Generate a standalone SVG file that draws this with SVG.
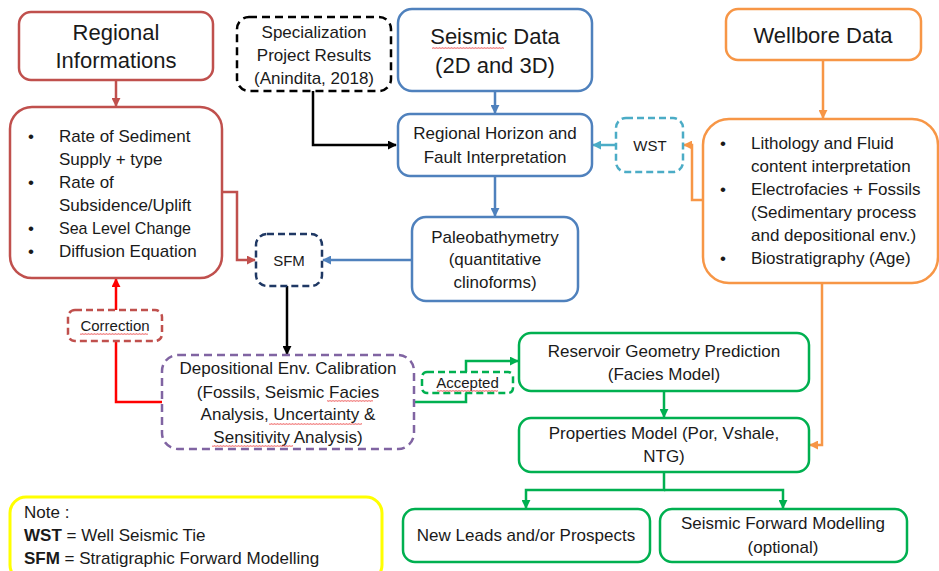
<svg xmlns="http://www.w3.org/2000/svg" width="939" height="571" viewBox="0 0 939 571">
<defs>
<style>
text{font-family:"Liberation Sans",Arial,sans-serif;fill:#1a1a1a;font-size:17px}
.h{font-size:22px}
.s{font-size:15px}
.c{text-anchor:middle}
.box{fill:#fff;stroke-width:2.5}
.ln{fill:none;stroke-width:2.5}
.sq{fill:url(#wave)}
</style>
<pattern id="wave" width="3" height="2" patternUnits="userSpaceOnUse"><path d="M0,1.8 L0.75,0.2 L1.5,1.8 L2.25,0.2 L3,1.8" fill="none" stroke="#e84040" stroke-width="0.5"/></pattern>
<marker id="aRd" viewBox="0 0 10 10" refX="9" refY="5" markerWidth="9" markerHeight="9" markerUnits="userSpaceOnUse" orient="auto"><path d="M0,0L10,5L0,10z" fill="#C0504D"/></marker>
<marker id="aR" viewBox="0 0 10 10" refX="9" refY="5" markerWidth="9" markerHeight="9" markerUnits="userSpaceOnUse" orient="auto"><path d="M0,0L10,5L0,10z" fill="#FF0000"/></marker>
<marker id="aB" viewBox="0 0 10 10" refX="9" refY="5" markerWidth="9" markerHeight="9" markerUnits="userSpaceOnUse" orient="auto"><path d="M0,0L10,5L0,10z" fill="#4F81BD"/></marker>
<marker id="aT" viewBox="0 0 10 10" refX="9" refY="5" markerWidth="9" markerHeight="9" markerUnits="userSpaceOnUse" orient="auto"><path d="M0,0L10,5L0,10z" fill="#4BACC6"/></marker>
<marker id="aO" viewBox="0 0 10 10" refX="9" refY="5" markerWidth="9" markerHeight="9" markerUnits="userSpaceOnUse" orient="auto"><path d="M0,0L10,5L0,10z" fill="#F79646"/></marker>
<marker id="aG" viewBox="0 0 10 10" refX="9" refY="5" markerWidth="9" markerHeight="9" markerUnits="userSpaceOnUse" orient="auto"><path d="M0,0L10,5L0,10z" fill="#00B050"/></marker>
<marker id="aK" viewBox="0 0 10 10" refX="9" refY="5" markerWidth="9" markerHeight="9" markerUnits="userSpaceOnUse" orient="auto"><path d="M0,0L10,5L0,10z" fill="#000"/></marker>
</defs>
<rect width="939" height="571" fill="#fff"/>

<g id="connectors">
<path class="ln" stroke="#C0504D" d="M116,80 V106" marker-end="url(#aRd)"/>
<path class="ln" stroke="#C0504D" d="M222,192 H237 V260 H255" marker-end="url(#aRd)"/>
<path class="ln" stroke="#000" d="M313,91 V145 H396" marker-end="url(#aK)"/>
<path class="ln" stroke="#4F81BD" d="M495,91 V113" marker-end="url(#aB)"/>
<path class="ln" stroke="#4F81BD" d="M495,176 V216" marker-end="url(#aB)"/>
<path class="ln" stroke="#4F81BD" d="M412,260 H323" marker-end="url(#aB)"/>
<path class="ln" stroke="#4BACC6" d="M616,145 H593" marker-end="url(#aT)"/>
<path class="ln" stroke="#F79646" d="M823,60 V118" marker-end="url(#aO)"/>
<path class="ln" stroke="#F79646" d="M703,200 H692 V145 H684" marker-end="url(#aO)"/>
<path class="ln" stroke="#F79646" d="M822,283 V445 H810" marker-end="url(#aO)"/>
<path class="ln" stroke="#000" d="M287,286 V354" marker-end="url(#aK)"/>
<path class="ln" stroke="#FF0000" d="M162,402 H116 V341"/>
<path class="ln" stroke="#FF0000" d="M116,310 V279" marker-end="url(#aR)"/>
<path class="ln" stroke="#00B050" d="M414,402 H466 V361 H518" marker-end="url(#aG)"/>
<path class="ln" stroke="#00B050" d="M664,391 V417" marker-end="url(#aG)"/>
<path class="ln" stroke="#00B050" d="M664,472 V490 H526 V508" marker-end="url(#aG)"/>
<path class="ln" stroke="#00B050" d="M664,490 H783 V508" marker-end="url(#aG)"/>
</g>

<g id="regional">
<rect class="box" x="19" y="12" width="194" height="68" rx="12" stroke="#C0504D"/>
<text class="h c" x="116" y="40">Regional</text>
<text class="h c" x="116" y="68">Informations</text>
</g>

<g id="regional-list">
<rect class="box" x="10" y="107" width="212" height="171" rx="22" stroke="#C0504D"/>
<text x="28" y="142">•</text><text x="59" y="142">Rate of Sediment</text>
<text x="59" y="165">Supply + type</text>
<text x="28" y="188">•</text><text x="59" y="188">Rate of</text>
<text x="59" y="211">Subsidence/Uplift</text>
<text x="28" y="234">•</text><text x="59" y="234" textLength="132" lengthAdjust="spacingAndGlyphs">Sea Level Change</text>
<text x="28" y="257">•</text><text x="59" y="257">Diffusion Equation</text>
</g>

<g id="specialization">
<rect class="box" x="237" y="17" width="154" height="74" rx="12" stroke="#000" stroke-dasharray="8 5"/>
<text class="c" x="314" y="38">Specialization</text>
<text class="c" x="314" y="61">Project Results</text>
<text class="c" x="314" y="84">(Anindita, 2018)</text>
</g>

<g id="seismic">
<rect class="box" x="398" y="9" width="194" height="82" rx="14" stroke="#4F81BD"/>
<text class="h c" x="495" y="44">Seismic Data</text>
<text class="h c" x="495" y="73">(2D and 3D)</text>
<rect class="sq" x="432" y="47" width="72" height="2"/>
</g>

<g id="horizon">
<rect class="box" x="398" y="114" width="194" height="62" rx="12" stroke="#4F81BD"/>
<text class="c" x="495" y="139">Regional Horizon and</text>
<text class="c" x="495" y="163">Fault Interpretation</text>
</g>

<g id="paleo">
<rect class="box" x="412" y="217" width="166" height="84" rx="14" stroke="#4F81BD"/>
<text class="c" x="495" y="243">Paleobathymetry</text>
<text class="c" x="495" y="265">(quantitative</text>
<text class="c" x="495" y="288">clinoforms)</text>
</g>

<g id="sfm">
<rect class="box" x="256" y="234" width="66" height="52" rx="11" stroke="#1F3864" stroke-dasharray="7 4"/>
<text class="s c" x="289" y="266">SFM</text>
</g>

<g id="wst">
<rect class="box" x="616" y="118" width="67" height="54" rx="10" stroke="#4BACC6" stroke-dasharray="7 4"/>
<text class="s c" x="650" y="151">WST</text>
</g>

<g id="wellbore">
<rect class="box" x="726" y="9" width="195" height="51" rx="12" stroke="#F79646"/>
<text class="h c" x="823" y="43">Wellbore Data</text>
</g>

<g id="wellbore-list">
<rect class="box" x="703" y="119" width="235" height="164" rx="26" stroke="#F79646"/>
<text x="720" y="149">•</text><text x="751" y="149">Lithology and Fluid</text>
<text x="751" y="172">content interpretation</text>
<text x="720" y="195">•</text><text x="751" y="195">Electrofacies + Fossils</text>
<text x="751" y="218">(Sedimentary process</text>
<text x="751" y="241">and depositional env.)</text>
<text x="720" y="264">•</text><text x="751" y="264">Biostratigraphy (Age)</text>
</g>

<g id="correction">
<rect class="box" x="68" y="310" width="94" height="31" rx="7" stroke="#C0504D" stroke-dasharray="7 4"/>
<text class="s c" x="115" y="331">Correction</text>
<rect class="sq" x="80" y="333" width="68" height="2"/>
</g>

<g id="calibration">
<rect class="box" x="162" y="355" width="252" height="94" rx="16" stroke="#8064A2" stroke-dasharray="8 5"/>
<text class="c" x="288" y="374">Depositional Env. Calibration</text>
<text class="c" x="288" y="398">(Fossils, Seismic Facies</text>
<text class="c" x="288" y="420">Analysis, Uncertainty &amp;</text>
<text class="c" x="288" y="443">Sensitivity Analysis)</text>
<rect class="sq" x="327" y="400" width="46" height="2"/>
<rect class="sq" x="269" y="423" width="93" height="2"/>
<rect class="sq" x="212" y="445" width="81" height="2"/>
</g>

<g id="accepted">
<rect class="box" x="422" y="372" width="91" height="21" rx="5" stroke="#00B050" stroke-dasharray="7 4"/>
<text class="s c" x="467.5" y="388">Accepted</text>
<rect class="sq" x="437" y="390" width="61" height="2"/>
</g>

<g id="reservoir">
<rect class="box" x="519" y="333" width="290" height="58" rx="12" stroke="#00B050"/>
<text class="c" x="664" y="357">Reservoir Geometry Prediction</text>
<text class="c" x="664" y="380">(Facies Model)</text>
</g>

<g id="properties">
<rect class="box" x="519" y="418" width="290" height="54" rx="12" stroke="#00B050"/>
<text class="c" x="664" y="439">Properties Model (Por, Vshale,</text>
<text class="c" x="664" y="462">NTG)</text>
</g>

<g id="leads">
<rect class="box" x="403" y="509" width="247" height="53" rx="12" stroke="#00B050"/>
<text class="c" x="526" y="541">New Leads and/or Prospects</text>
</g>

<g id="forward">
<rect class="box" x="660" y="509" width="247" height="53" rx="12" stroke="#00B050"/>
<text class="c" x="783" y="529">Seismic Forward Modelling</text>
<text class="c" x="783" y="553">(optional)</text>
</g>

<g id="note">
<rect x="10" y="497" width="372" height="84" rx="16" fill="#fff" stroke="#FFFF00" stroke-width="3"/>
<text x="24" y="518">Note :</text>
<text x="24" y="541"><tspan font-weight="bold">WST</tspan> = Well Seismic Tie</text>
<text x="24" y="564"><tspan font-weight="bold">SFM</tspan> = Stratigraphic Forward Modelling</text>
</g>
</svg>
